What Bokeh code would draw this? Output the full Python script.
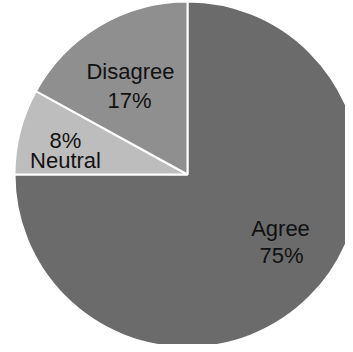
import math
from bokeh.plotting import figure
from bokeh.models import Range1d, ColumnDataSource
from bokeh.core.properties import value
from bokeh.embed import file_html
from bokeh.resources import INLINE

# data
categories = ["Agree", "Neutral", "Disagree"]
percents = [75, 8, 17]
colors = ["#6b6b6b", "#bdbdbd", "#8f8f8f"]

# layout (image pixel geometry, y measured downward from top)
W, H = 345, 344
cx_img, cy_img, R = 187, 174, 173
label_lines = [("Agree", "75%"), ("8%", "Neutral"), ("Disagree", "17%")]
# (x center, baseline y) per line
label_pos = [((280, 228), (281, 255)), ((65, 140), (65, 160)), ((130, 71), (129, 100))]

def ydat(y_img):
    return 344 - y_img

p = figure(width=W, height=H, output_backend="svg", toolbar_location=None,
           x_range=Range1d(0, 345), y_range=Range1d(0, 344), min_border=0)
p.axis.visible = False
p.grid.visible = False
p.outline_line_color = None
p.background_fill_color = "white"
p.border_fill_color = "white"

total = sum(percents)
start = math.pi / 2
starts, ends = [], []
for v in percents:
    a = 2 * math.pi * v / total
    starts.append(start)
    ends.append(start - a)
    start -= a

src = ColumnDataSource(dict(x=[cx_img] * 3, y=[ydat(cy_img)] * 3, s=starts, e=ends,
                            c=colors, cat=categories, pct=percents))
p.wedge(x="x", y="y", radius=R, start_angle="s", end_angle="e", direction="clock",
        fill_color="c", line_color="white", line_width=2, source=src)

xs, ys, ts = [], [], []
for lines, pos in zip(label_lines, label_pos):
    for t, (px, py) in zip(lines, pos):
        xs.append(px)
        ys.append(ydat(py))
        ts.append(t)
p.text(x=xs, y=ys, text=ts, text_font=value("Liberation Sans"), text_font_size="22px",
       text_align="center", text_baseline="alphabetic", text_color="#111111")

open("out.html", "w").write(file_html(p, INLINE))
